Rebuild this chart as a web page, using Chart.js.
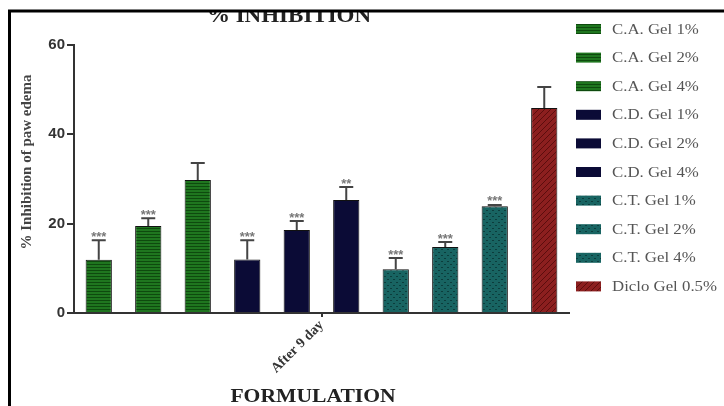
<!DOCTYPE html>
<html>
<head>
<meta charset="utf-8">
<script src="https://cdn.jsdelivr.net/npm/chart.js@4"></script>
<style>
  html, body { margin: 0; padding: 0; background: #fff; }
  #wrap { width: 724px; height: 406px; }
</style>
</head>
<body>
<div id="wrap"><canvas id="chart" width="724" height="406"></canvas></div>
<script>
const groups = ['After 9 day'];
const formulations = ['C.A. Gel 1%', 'C.A. Gel 2%', 'C.A. Gel 4%', 'C.D. Gel 1%', 'C.D. Gel 2%', 'C.D. Gel 4%', 'C.T. Gel 1%', 'C.T. Gel 2%', 'C.T. Gel 4%', 'Diclo Gel 0.5%'];
const inhibition = [11.9, 19.5, 29.8, 12.0, 18.6, 25.3, 9.8, 14.8, 23.9, 45.9];
const sem = [4.4, 1.7, 3.8, 4.3, 2.0, 2.9, 2.5, 1.1, 0.3, 4.7];
const significance = ['***', '***', '', '***', '***', '**', '***', '***', '***', ''];
const yTicks = [0, 20, 40, 60];

// fill patterns like the original prism plot
function makePattern(kind) {
    const c = document.createElement('canvas');
    c.width = 6; c.height = 6;
    const g = c.getContext('2d');
    if (kind === 'stripes') {
        g.fillStyle = '#1f761f'; g.fillRect(0, 0, 6, 6);
        g.fillStyle = '#0e4a0e'; g.fillRect(0, 0, 6, 1); g.fillRect(0, 3, 6, 1);
    } else if (kind === 'dots') {
        g.fillStyle = '#186462'; g.fillRect(0, 0, 6, 6);
        g.fillStyle = '#0c3d3c'; g.fillRect(0, 0, 2, 1); g.fillRect(3, 3, 2, 1);
    } else if (kind === 'diag') {
        g.fillStyle = '#8c1f1f'; g.fillRect(0, 0, 6, 6);
        g.strokeStyle = '#5c0d0d'; g.lineWidth = 1;
        g.beginPath(); g.moveTo(0, 6); g.lineTo(6, 0); g.moveTo(-3, 3); g.lineTo(3, -3); g.moveTo(3, 9); g.lineTo(9, 3); g.stroke();
    } else {
        g.fillStyle = '#0b0b36'; g.fillRect(0, 0, 6, 6);
    }
    return g.createPattern(c, 'repeat');
}

const fills = {
    ca: makePattern('stripes'),
    cd: makePattern('solid'),
    ct: makePattern('dots'),
    dc: makePattern('diag')
};
const fillFor = i => i < 3 ? fills.ca : i < 6 ? fills.cd : i < 9 ? fills.ct : fills.dc;

const datasets = formulations.map((name, i) => ({
    label: name,
    data: [inhibition[i]],
    backgroundColor: fillFor(i),
    borderColor: '#111',
    borderWidth: 1
}));

const serif = "'Liberation Serif', 'Times New Roman', serif";

const decorations = {
    id: 'decorations',
    afterDatasetsDraw(chart) {
        const ctx = chart.ctx;
        const y = chart.scales.y;
        ctx.save();
        chart.data.datasets.forEach((ds, i) => {
            const bar = chart.getDatasetMeta(i).data[0];
            const top = y.getPixelForValue(inhibition[i] + sem[i]);
            ctx.strokeStyle = '#444';
            ctx.lineWidth = 2;
            ctx.beginPath();
            ctx.moveTo(bar.x, bar.y);
            ctx.lineTo(bar.x, top);
            ctx.moveTo(bar.x - 7, top);
            ctx.lineTo(bar.x + 7, top);
            ctx.stroke();
            if (significance[i]) {
                ctx.fillStyle = '#777';
                ctx.font = 'bold 13px "Liberation Sans", Arial, sans-serif';
                ctx.textAlign = 'center';
                ctx.textBaseline = 'middle';
                ctx.fillText(significance[i], bar.x, top - 3);
            }
        });
        ctx.restore();
    },
    afterDraw(chart) {
        const ctx = chart.ctx;
        ctx.save();
        // legend
        chart.data.datasets.forEach((ds, i) => {
            const cy = 29 + i * 28.6;
            ctx.fillStyle = ds.backgroundColor;
            ctx.fillRect(576, cy - 5, 25, 10);
            ctx.save();
            ctx.translate(612, cy);
            ctx.scale(1.2, 1);
            ctx.fillStyle = '#555';
            ctx.font = '14px ' + serif;
            ctx.textAlign = 'left';
            ctx.textBaseline = 'middle';
            ctx.fillText(ds.label, 0, 1);
            ctx.restore();
        });
        // axis title
        ctx.save();
        ctx.translate(27, 162);
        ctx.rotate(-Math.PI / 2);
        ctx.fillStyle = '#444';
        ctx.font = 'bold 15px ' + serif;
        ctx.textAlign = 'center';
        ctx.textBaseline = 'middle';
        ctx.fillText('% Inhibition of paw edema', 0, 0);
        ctx.restore();
        // x title
        ctx.save();
        ctx.translate(313, 402);
        ctx.scale(1.2, 1);
        ctx.fillStyle = '#222';
        ctx.font = 'bold 18px ' + serif;
        ctx.textAlign = 'center';
        ctx.textBaseline = 'alphabetic';
        ctx.fillText('FORMULATION', 0, 0);
        ctx.restore();
        // chart title, partly hidden by the frame
        ctx.save();
        ctx.translate(289, 22);
        ctx.scale(1.15, 1);
        ctx.fillStyle = '#222';
        ctx.font = 'bold 20px ' + serif;
        ctx.textAlign = 'center';
        ctx.textBaseline = 'alphabetic';
        ctx.fillText('% INHIBITION', 0, 0);
        ctx.restore();
        ctx.fillStyle = '#fff';
        ctx.fillRect(0, 0, 724, 10);
        ctx.fillRect(0, 0, 8, 406);
        ctx.strokeStyle = '#000';
        ctx.lineWidth = 3;
        ctx.beginPath();
        ctx.moveTo(9.5, 406);
        ctx.lineTo(9.5, 11);
        ctx.lineTo(724, 11);
        ctx.stroke();
        ctx.restore();
    }
};

new Chart(document.getElementById('chart'), {
    type: 'bar',
    data: { labels: groups, datasets: datasets },
    options: {
        responsive: false,
        animation: false,
        layout: { padding: { top: 45, right: 155, left: 0, bottom: 0 } },
        datasets: { bar: { categoryPercentage: 1.0, barPercentage: 0.53 } },
        plugins: {
            legend: { display: false },
            title: { display: false },
            tooltip: { enabled: false }
        },
        scales: {
            x: {
                grid: { offset: false, drawOnChartArea: false, tickLength: 4, color: '#333', lineWidth: 2 },
                border: { color: '#333', width: 2 },
                ticks: {
                    minRotation: 45, maxRotation: 45, color: '#333', padding: 0,
                    font: { family: serif, weight: 'bold', size: 14 }
                },
                afterFit(s) { s.height = 93; }
            },
            y: {
                min: 0, max: 60,
                afterBuildTicks(s) { s.ticks = yTicks.map(v => ({ value: v })); },
                grid: { drawOnChartArea: false, tickLength: 7, color: '#333', lineWidth: 2 },
                border: { color: '#333', width: 2 },
                ticks: {
                    color: '#333', padding: 2,
                    font: { family: "'Liberation Sans', Arial, sans-serif", weight: 'bold', size: 15 }
                },
                afterFit(s) { s.width = 74; }
            }
        }
    },
    plugins: [decorations]
});
</script>
</body>
</html>
